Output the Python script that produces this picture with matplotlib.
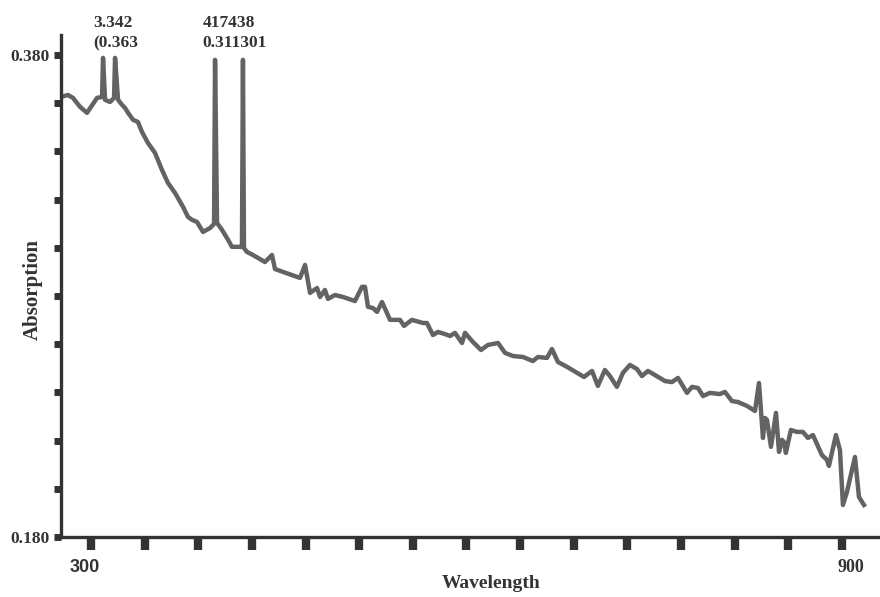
import matplotlib
matplotlib.use("Agg")
import matplotlib.pyplot as plt
from matplotlib.transforms import ScaledTranslation

# wavelength (nm) and absorption
wavelength = [276.0, 281.6, 285.6, 291.2, 296.8, 304.8, 308.8, 309.6, 311.2, 315.2,
              318.4, 319.2, 321.6, 324.8, 327.2, 329.6, 333.6, 337.5, 340.7, 345.5,
              351.1, 356.7, 361.5, 367.1, 373.5, 377.5, 380.7, 384.7, 389.5, 395.1,
              398.3, 399.1, 400.7, 404.7, 409.5, 412.6, 420.6, 421.4, 422.2, 424.6,
              429.4, 433.4, 439.0, 444.6, 447.0, 453.4, 460.6, 467.0, 471.0, 475.0,
              480.6, 483.0, 486.9, 489.3, 494.9, 501.3, 510.9, 516.5, 518.9, 521.3,
              525.3, 528.5, 532.5, 538.9, 546.9, 550.1, 556.4, 565.2, 568.4, 573.2,
              577.2, 582.8, 586.8, 590.8, 596.4, 598.8, 605.2, 611.6, 617.2, 625.2,
              630.8, 637.1, 645.1, 653.1, 657.1, 664.3, 668.3, 673.1, 680.3, 688.3,
              693.9, 700.3, 705.0, 710.6, 714.6, 720.2, 725.0, 730.6, 736.2, 740.2,
              745.0, 750.6, 758.6, 764.2, 769.0, 776.2, 780.2, 785.0, 789.0, 794.5,
              802.5, 806.5, 812.1, 816.9, 824.1, 830.5, 833.7, 836.9, 838.5, 840.1,
              843.3, 847.3, 849.7, 852.1, 853.7, 855.2, 859.2, 864.0, 868.8, 872.8,
              876.8, 884.0, 888.0, 889.6, 895.2, 898.4, 900.8, 904.0, 910.4, 913.6,
              917.6]
absorption = [0.3626, 0.3634, 0.3622, 0.3585, 0.3560, 0.3622, 0.3626, 0.3788, 0.3614, 0.3605,
              0.3622, 0.3788, 0.3614, 0.3593, 0.3580, 0.3560, 0.3531, 0.3522, 0.3481, 0.3435,
              0.3394, 0.3323, 0.3269, 0.3228, 0.3170, 0.3128, 0.3116, 0.3107, 0.3066, 0.3082,
              0.3099, 0.3780, 0.3103, 0.3074, 0.3033, 0.3004, 0.3004, 0.3780, 0.2999, 0.2983,
              0.2970, 0.2958, 0.2941, 0.2970, 0.2912, 0.2900, 0.2887, 0.2875, 0.2929, 0.2813,
              0.2833, 0.2796, 0.2825, 0.2788, 0.2804, 0.2796, 0.2779, 0.2838, 0.2838, 0.2755,
              0.2750, 0.2734, 0.2775, 0.2701, 0.2701, 0.2676, 0.2701, 0.2688, 0.2688, 0.2638,
              0.2651, 0.2642, 0.2634, 0.2647, 0.2605, 0.2647, 0.2609, 0.2576, 0.2597, 0.2605,
              0.2564, 0.2551, 0.2547, 0.2530, 0.2547, 0.2543, 0.2580, 0.2526, 0.2506, 0.2481,
              0.2464, 0.2489, 0.2427, 0.2493, 0.2468, 0.2423, 0.2481, 0.2514, 0.2497, 0.2468,
              0.2489, 0.2472, 0.2447, 0.2443, 0.2460, 0.2398, 0.2423, 0.2418, 0.2385, 0.2398,
              0.2393, 0.2402, 0.2364, 0.2360, 0.2344, 0.2323, 0.2439, 0.2211, 0.2294, 0.2286,
              0.2174, 0.2315, 0.2153, 0.2203, 0.2194, 0.2149, 0.2244, 0.2236, 0.2236, 0.2211,
              0.2223, 0.2140, 0.2120, 0.2095, 0.2223, 0.2161, 0.1933, 0.1987, 0.2132, 0.1966,
              0.1933]

y_ticks = [0.180, 0.200, 0.220, 0.240, 0.260, 0.280, 0.300, 0.320, 0.340, 0.360, 0.380]
y_labels = ["0.180", "", "", "", "", "", "", "", "", "", "0.380"]
x_ticks = [300.0, 342.9, 385.7, 428.6, 471.4, 514.3, 557.1, 600.0,
           642.9, 685.7, 728.6, 771.4, 814.3, 857.1, 900.0]
x_labels = ["300"] + [""] * 13 + ["900"]

serif = "Liberation Serif"
dark = "#333333"

fig = plt.figure(figsize=(8.8, 5.97), dpi=100)
ax = fig.add_axes([0.0693, 0.1005, 0.9287, 0.8409])

ax.plot(wavelength, absorption, color="#636363", lw=3.2, solid_joinstyle="round")

ax.set_xlim(276, 929)
ax.set_ylim(0.180, 0.3883)

for s in ["top", "right"]:
    ax.spines[s].set_visible(False)
for s in ["left", "bottom"]:
    ax.spines[s].set_color(dark)
    ax.spines[s].set_linewidth(2.4)

ax.set_yticks(y_ticks)
ax.set_yticklabels(y_labels, fontfamily=serif, fontweight="bold", fontsize=12.5, color=dark)
ax.tick_params(axis="y", direction="out", length=5, width=5, color=dark, pad=3)

ax.set_xticks(x_ticks)
ax.set_xticklabels(x_labels, fontsize=13, fontweight="bold", color=dark)
ax.tick_params(axis="x", direction="out", length=9, width=6, color=dark, pad=7)
xl = ax.get_xticklabels()
xl[0].set_fontfamily("Liberation Sans")
xl[0].set_transform(xl[0].get_transform() + ScaledTranslation(-0.06, 0, fig.dpi_scale_trans))
xl[-1].set_fontfamily(serif)
xl[-1].set_transform(xl[-1].get_transform() + ScaledTranslation(0.09, 0, fig.dpi_scale_trans))

fig.text(491 / 880, 1 - 584 / 597, "Wavelength", fontfamily=serif, fontweight="bold",
         fontsize=14, color=dark, ha="center", va="center")
fig.text(33 / 880, 1 - 289 / 597, "Absorption", fontfamily=serif, fontweight="bold",
         fontsize=15, color=dark, ha="center", va="center", rotation=90)

# peak labels at the top
ax.text(302, 0.3815, "3.342\n(0.363", fontfamily=serif, fontweight="bold", fontsize=12.5,
        color=dark, ha="left", va="bottom", linespacing=1.35, clip_on=False)
ax.text(389, 0.3815, "417438\n0.311301", fontfamily=serif, fontweight="bold", fontsize=12.5,
        color=dark, ha="left", va="bottom", linespacing=1.35, clip_on=False)

fig.savefig("out.png", dpi=100)
